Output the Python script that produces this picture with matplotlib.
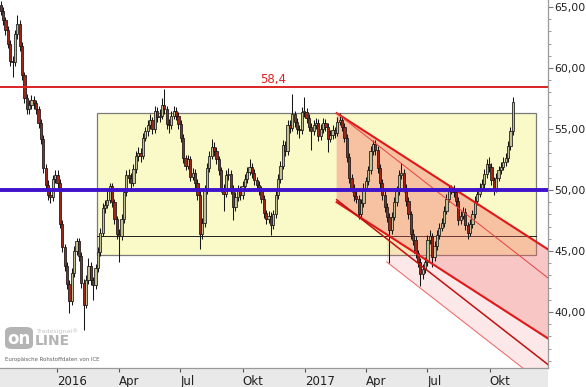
import matplotlib
matplotlib.use('Agg')
import matplotlib.pyplot as plt
import matplotlib.dates as mdates
from matplotlib.patches import Rectangle, Polygon, FancyBboxPatch
import matplotlib.ticker as mticker
import pandas as pd

# ---------------- data ----------------
first_open = 65.2
start_date = '2015-10-10'
step = '84h'
close = [
    64.7, 63.9, 63.1, 62.0, 60.6, 60.5, 62.8, 63.6, 61.8, 59.4,
    57.5, 56.6, 57.0, 57.4, 57.1, 56.6, 55.5, 54.2, 51.8, 50.4,
    49.6, 49.4, 50.9, 51.2, 50.6, 47.2, 45.3, 43.8, 42.3, 40.9,
    43.2, 45.0, 45.8, 44.6, 42.4, 40.6, 42.6, 43.8, 42.6, 42.2,
    43.6, 44.9, 46.5, 48.5, 48.8, 49.2, 50.3, 49.0, 47.6, 46.4,
    46.2, 47.6, 49.8, 51.2, 51.0, 50.6, 51.7, 52.8, 53.0, 52.8,
    54.3, 54.8, 55.3, 55.7, 55.0, 56.5, 56.0, 56.1, 57.0, 56.6,
    55.4, 55.3, 56.1, 56.5, 56.1, 55.4, 54.3, 52.6, 52.0, 52.5,
    51.1, 51.4, 50.6, 49.6, 46.4, 47.3, 50.0, 51.8, 52.8, 53.5,
    53.2, 52.5, 51.6, 50.2, 49.7, 51.2, 51.3, 50.1, 48.6, 49.4,
    50.0, 49.6, 50.3, 50.9, 51.5, 51.9, 51.4, 50.8, 50.4, 50.0,
    49.3, 48.1, 47.6, 47.9, 47.1, 48.0, 49.6, 50.9, 52.0, 53.7,
    53.2, 55.3, 55.1, 56.2, 55.6, 55.0, 54.9, 56.4, 56.4, 55.9,
    55.2, 54.8, 55.3, 55.5, 54.4, 55.0, 55.5, 55.2, 54.2, 54.5,
    54.9, 54.7, 55.6, 55.7, 55.2, 54.3, 52.7, 51.0, 50.2, 49.5,
    49.3, 48.0, 48.9, 50.2, 50.7, 51.6, 53.2, 53.8, 53.3, 51.8,
    50.6, 49.6, 48.6, 47.8, 46.7, 47.8, 49.0, 49.9, 51.2, 51.4,
    50.2, 49.1, 48.0, 46.4, 45.9, 44.8, 44.1, 43.1, 43.5, 44.1,
    45.9, 46.2, 44.5, 45.4, 46.3, 46.9, 47.3, 48.3, 49.3, 50.0,
    50.1, 49.8, 49.1, 47.5, 47.9, 48.2, 47.1, 46.5, 47.2, 48.0,
    49.1, 49.7, 50.2, 50.5, 51.3, 52.1, 51.9, 50.8, 50.1, 51.0,
    51.6, 51.9, 52.3, 52.6, 53.6, 54.8, 57.2,
]
high = [
    65.5, 65.0, 64.2, 63.4, 62.3, 61.0, 63.1, 64.3, 63.9, 62.1,
    59.7, 57.9, 57.4, 57.8, 57.7, 57.4, 56.9, 55.8, 54.5, 52.1,
    50.8, 50.0, 51.2, 51.6, 51.6, 50.9, 47.5, 45.6, 44.1, 42.6,
    43.6, 45.4, 46.1, 46.1, 44.9, 42.7, 43.0, 44.4, 44.1, 42.9,
    43.9, 45.3, 46.9, 48.9, 49.2, 50.0, 50.6, 50.6, 49.3, 47.9,
    46.8, 48.0, 50.2, 51.6, 51.7, 51.4, 52.1, 53.2, 53.5, 53.4,
    54.7, 55.2, 55.7, 56.2, 56.0, 56.9, 56.8, 56.6, 57.5, 58.3,
    56.9, 55.8, 56.5, 56.9, 56.8, 56.4, 55.7, 54.6, 52.9, 52.9,
    52.8, 51.8, 51.7, 50.9, 49.9, 47.7, 50.4, 52.2, 53.2, 54.2,
    53.9, 53.5, 52.8, 51.9, 50.5, 51.6, 51.8, 51.6, 50.4, 49.8,
    50.4, 50.3, 50.7, 51.3, 51.9, 52.5, 52.2, 51.7, 51.1, 50.7,
    50.3, 49.6, 48.4, 48.3, 48.2, 48.4, 50.0, 51.3, 52.4, 54.1,
    54.0, 55.7, 55.7, 57.9, 56.5, 55.9, 55.3, 56.8, 57.6, 56.7,
    56.2, 55.5, 55.7, 55.9, 55.8, 55.4, 55.9, 55.8, 55.5, 54.9,
    55.3, 55.2, 56.0, 56.3, 56.0, 55.5, 54.6, 53.0, 51.3, 50.5,
    49.9, 49.6, 49.3, 50.6, 51.1, 52.0, 53.6, 54.1, 54.1, 53.6,
    52.1, 50.9, 49.9, 48.9, 48.1, 48.2, 49.4, 50.3, 51.6, 52.2,
    51.7, 50.5, 49.4, 48.3, 46.8, 46.2, 45.1, 44.4, 43.9, 44.5,
    46.3, 46.7, 46.5, 45.8, 46.7, 47.3, 47.7, 48.7, 49.7, 50.4,
    50.4, 50.4, 50.1, 49.4, 48.3, 48.6, 48.5, 47.4, 47.6, 48.4,
    49.5, 50.1, 50.6, 50.9, 51.7, 52.5, 52.7, 52.2, 51.1, 51.4,
    52.0, 52.3, 52.7, 53.0, 54.0, 55.2, 57.6,
]
low = [
    64.3, 63.5, 62.7, 61.6, 60.2, 59.3, 60.2, 62.4, 61.4, 59.0,
    57.1, 56.2, 56.2, 56.6, 56.6, 56.2, 55.1, 53.8, 51.4, 50.0,
    49.2, 48.9, 49.1, 50.6, 50.2, 46.9, 44.9, 43.4, 41.9, 39.9,
    40.6, 42.9, 44.7, 44.2, 42.0, 38.5, 40.3, 42.3, 42.2, 41.0,
    41.9, 43.3, 44.6, 46.2, 48.1, 48.5, 48.9, 48.6, 47.2, 46.0,
    44.1, 45.9, 47.3, 49.5, 50.6, 50.1, 50.3, 51.4, 52.4, 52.3,
    52.5, 54.0, 54.4, 55.0, 54.6, 54.7, 55.6, 55.6, 55.8, 56.2,
    55.0, 54.7, 55.0, 55.8, 55.7, 55.0, 53.9, 52.2, 51.6, 51.7,
    50.7, 50.8, 50.2, 49.2, 45.2, 46.0, 47.0, 49.7, 51.5, 52.5,
    52.8, 52.1, 51.2, 49.8, 48.3, 49.4, 50.8, 49.7, 47.5, 48.3,
    49.1, 49.2, 49.3, 50.0, 50.6, 51.2, 51.0, 50.4, 50.0, 49.6,
    48.9, 47.7, 47.2, 47.3, 46.3, 46.8, 47.7, 49.3, 50.6, 51.7,
    52.8, 52.9, 54.7, 54.8, 55.2, 54.6, 54.3, 54.6, 56.0, 55.5,
    54.8, 53.3, 54.5, 55.0, 54.0, 54.1, 54.7, 54.8, 53.1, 53.9,
    54.2, 54.3, 54.4, 55.3, 54.8, 53.9, 52.3, 50.6, 49.8, 49.1,
    48.9, 47.6, 47.7, 48.6, 49.9, 50.4, 51.3, 52.9, 52.9, 51.4,
    50.2, 49.2, 48.2, 47.4, 44.0, 46.4, 47.5, 48.7, 49.6, 50.9,
    49.8, 48.7, 47.6, 46.0, 45.5, 44.4, 43.7, 42.1, 42.7, 43.2,
    43.8, 45.6, 43.7, 44.2, 45.1, 46.0, 46.6, 47.0, 48.0, 49.0,
    49.7, 49.4, 48.7, 47.1, 47.2, 47.6, 46.7, 46.0, 46.2, 46.9,
    47.7, 48.8, 49.4, 49.9, 50.2, 51.0, 51.5, 50.4, 49.6, 49.8,
    50.7, 51.3, 51.6, 52.0, 52.3, 53.3, 54.5,
]

resistance = 58.4
resistance_label = '58,4'
pivot = 50.0
box_start, box_end = '2016-02-29', '2017-12-09'
box_top, box_bottom, box_mid = 56.3, 44.7, 46.2
ch_start = '2017-02-17'
ch_upper0, ch_lower0, ch_slope = 56.3, 49.0, -0.0358       # thick channel
ch2_upper0, ch2_mid0, ch2_slope = 56.3, 49.2, -0.0433      # thin channel
ch2_low_start, ch2_low0 = '2017-05-02', 44.1

tick_dates = ['2016-01-01', '2016-04-01', '2016-07-01', '2016-10-01',
              '2017-01-01', '2017-04-01', '2017-07-01', '2017-10-01']
tick_labels = ['2016', 'Apr', 'Jul', 'Okt', '2017', 'Apr', 'Jul', 'Okt']
x_left, x_right = '2015-10-09', '2017-12-26'
y_min, y_max = 35.41, 65.57

# ---------------- figure ----------------
W, H = 586, 387
fig = plt.figure(figsize=(W / 100, H / 100), dpi=100)
fig.patch.set_facecolor('white')

band_h = 19
fig.patches.append(Rectangle((0, 0), 548 / W, band_h / H, transform=fig.transFigure,
                             facecolor='#e9e9e9', edgecolor='none', zorder=-5))

ax = fig.add_axes([0, band_h / H, 548 / W, (H - band_h) / H])
ax.set_facecolor('white')

d2n = lambda s: mdates.date2num(pd.Timestamp(s))
xl, xr = d2n(x_left), d2n(x_right)
ax.set_xlim(xl, xr)
ax.set_ylim(y_min, y_max)

# yellow box
bx0, bx1 = d2n(box_start), d2n(box_end)
ax.add_patch(Rectangle((bx0, box_bottom), bx1 - bx0, box_top - box_bottom,
                       facecolor='#fafac8', edgecolor='#7a7a7a', linewidth=0.9, zorder=1))
ax.plot([bx0, bx1], [box_mid, box_mid], color='#202020', lw=0.7, zorder=2)

# channels
c0 = d2n(ch_start)
span = xr - c0
up_end = ch_upper0 + ch_slope * span
lo_end = ch_lower0 + ch_slope * span
ax.add_patch(Polygon([(c0, ch_upper0), (xr, up_end), (xr, lo_end), (c0, ch_lower0)],
                     closed=True, facecolor=(0.94, 0.38, 0.38), alpha=0.36,
                     edgecolor='none', zorder=2))
l0 = d2n(ch2_low_start)
low_end = ch2_low0 + ch2_slope * (xr - l0)
lo_at_l0 = ch_lower0 + ch_slope * (l0 - c0)
ax.add_patch(Polygon([(l0, lo_at_l0), (xr, lo_end), (xr, low_end), (l0, ch2_low0)],
                     closed=True, facecolor=(0.95, 0.45, 0.45), alpha=0.16,
                     edgecolor='none', zorder=2))

# candles
dates = pd.date_range(start_date, periods=len(close), freq=step)
xs = mdates.date2num(dates)
opens = [first_open] + close[:-1]
bw = 3.3
ax.vlines(xs, low, high, color='#161616', lw=0.75, zorder=3)
for x, o, c in zip(xs, opens, close):
    up = c >= o
    b = min(o, c)
    h = max(abs(c - o), 0.08)
    ax.add_patch(Rectangle((x - bw / 2, b), bw, h,
                           facecolor='#c2c196' if up else '#a0261a',
                           edgecolor='#161616', linewidth=0.55, zorder=4))

# channel lines
ax.plot([c0, xr], [ch_upper0, up_end], color='#e01818', lw=1.5, zorder=5)
ax.plot([c0, xr], [ch_lower0, lo_end], color='#e01818', lw=1.5, zorder=5)
ax.plot([c0, xr], [ch2_upper0, ch2_upper0 + ch2_slope * span], color='#e84040', lw=0.7, zorder=5)
ax.plot([c0, xr], [ch2_mid0, ch2_mid0 + ch2_slope * span], color='#c01010', lw=1.1, zorder=5)
ax.plot([l0, xr], [ch2_low0, low_end], color='#ee6060', lw=0.7, zorder=5)

# horizontal lines
ax.axhline(resistance, color='#dd2222', lw=1.4, zorder=6)
ax.text(d2n('2016-11-15'), resistance + 0.15, resistance_label, color='#e02020',
        ha='center', va='bottom', fontsize=8.5, zorder=6)
ax.axhline(pivot, color='#3f12cc', lw=2.8, zorder=6)

# axes styling
for s in ['top', 'left']:
    ax.spines[s].set_visible(False)
for s in ['right', 'bottom']:
    ax.spines[s].set_color('#9a9a9a')
    ax.spines[s].set_linewidth(0.9)

ax.yaxis.tick_right()
ax.yaxis.set_major_locator(mticker.MultipleLocator(5))
ax.yaxis.set_minor_locator(mticker.MultipleLocator(1))
ax.yaxis.set_major_formatter(mticker.FuncFormatter(lambda v, p: f'{v:.2f}'.replace('.', ',')))
ax.tick_params(axis='y', which='major', length=3.5, width=0.8, color='#777777',
               labelsize=7.8, pad=1, labelcolor='#202020')
ax.tick_params(axis='y', which='minor', length=2.5, width=0.7, color='#999999')

ax.set_xticks([d2n(t) for t in tick_dates])
ax.set_xticklabels(tick_labels, ha='left')
ax.tick_params(axis='x', which='major', length=3, width=0.8, color='#555555',
               labelsize=8.5, pad=2, labelcolor='#202020')
ax.xaxis.set_minor_locator(mticker.NullLocator())

# watermark / source
fig.patches.append(FancyBboxPatch((5 / W, (H - 349) / H), 28 / W, 22 / H,
                                  boxstyle='round,pad=0,rounding_size=0.012',
                                  transform=fig.transFigure, facecolor='#b4b4b4',
                                  edgecolor='none', zorder=5))
fig.text(19 / W, (H - 339) / H, 'on', color='white', fontsize=12, fontweight='bold',
         ha='center', va='center', zorder=6)
fig.text(35 / W, (H - 341) / H, 'LINE', color='#b4b4b4', fontsize=10, fontweight='bold',
         ha='left', va='center', zorder=6)
fig.text(37 / W, (H - 331) / H, 'Tradesignal®', color='#c4c4c4', fontsize=4.5,
         ha='left', va='center', zorder=6)
fig.text(5 / W, (H - 359) / H, 'Europäische Rohstoffdaten von ICE', color='#606060',
         fontsize=3.9, ha='left', va='center', zorder=6)

fig.savefig('out.png', dpi=100)
